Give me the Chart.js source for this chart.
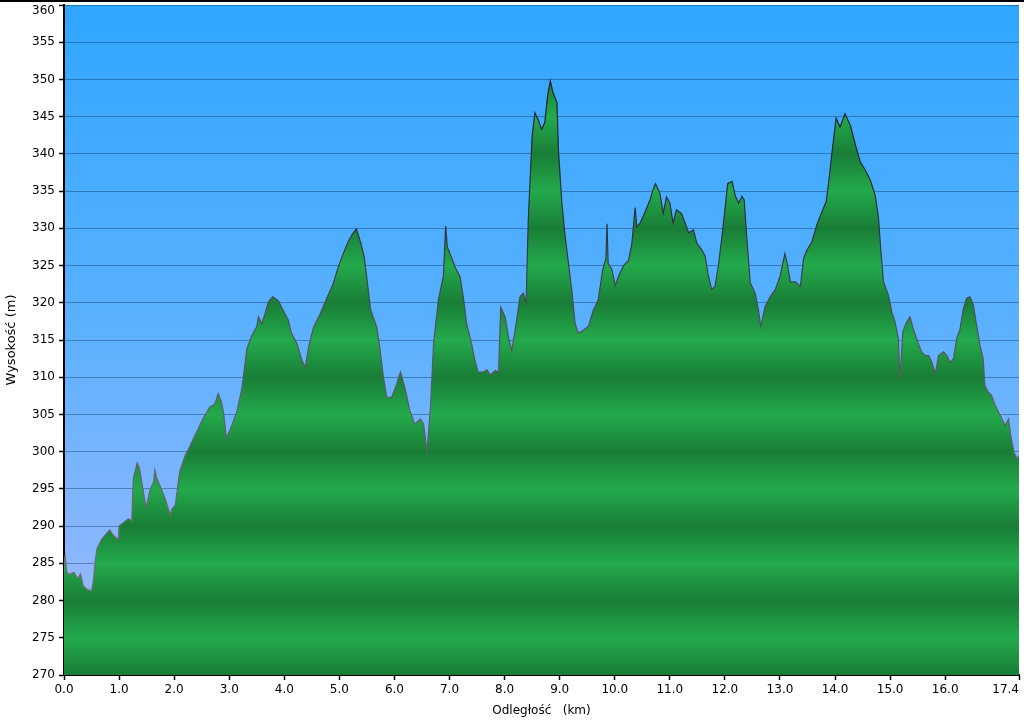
<!DOCTYPE html>
<html>
<head>
<meta charset="utf-8">
<script src="https://cdn.jsdelivr.net/npm/chart.js@4/dist/chart.umd.min.js"></script>
<style>
  html, body { margin: 0; padding: 0; background: #fff; }
  canvas { display: block; }
</style>
</head>
<body>
<canvas id="c" width="1024" height="720"></canvas>
<script>
// Distance along route (km)
const distKm = [
  0.00, 0.02, 0.05, 0.10, 0.18, 0.25, 0.30, 0.35, 0.42, 0.50, 0.53, 0.57, 0.60, 0.68, 0.77, 0.83, 0.90, 0.99,
  1.00, 1.08, 1.17, 1.23, 1.26, 1.33, 1.37, 1.42, 1.49, 1.56, 1.63, 1.65, 1.68, 1.74, 1.83, 1.93, 1.96,
  2.02, 2.10, 2.20, 2.29, 2.38, 2.47, 2.56, 2.65, 2.74, 2.80, 2.86, 2.90, 2.95,
  3.05, 3.14, 3.23, 3.32, 3.41, 3.50, 3.53, 3.59, 3.65, 3.71, 3.79, 3.89, 3.98,
  4.07, 4.13, 4.23, 4.32, 4.38, 4.44, 4.53, 4.65, 4.77, 4.89, 4.98,
  5.07, 5.16, 5.24, 5.31, 5.39, 5.45, 5.51, 5.57, 5.68, 5.74, 5.80, 5.86, 5.95,
  6.04, 6.11, 6.19, 6.28, 6.37, 6.47, 6.53, 6.59, 6.65, 6.71, 6.80, 6.89, 6.93, 6.96,
  7.03, 7.10, 7.19, 7.25, 7.31, 7.40, 7.46, 7.52, 7.62, 7.68, 7.74, 7.83, 7.89, 7.93,
  8.01, 8.07, 8.13, 8.19, 8.28, 8.34, 8.39, 8.43, 8.50, 8.55, 8.61, 8.67, 8.73, 8.78, 8.83, 8.88, 8.95, 8.98,
  9.04, 9.10, 9.16, 9.22, 9.28, 9.34, 9.43, 9.52, 9.61, 9.70, 9.78, 9.84, 9.86, 9.88, 9.95,
  10.01, 10.07, 10.16, 10.25, 10.31, 10.37, 10.40, 10.46, 10.55, 10.64, 10.69, 10.74, 10.82, 10.88, 10.94,
  11.00, 11.06, 11.12, 11.21, 11.28, 11.34, 11.43, 11.49, 11.58, 11.64, 11.70, 11.76, 11.82, 11.88, 11.94,
  12.00, 12.05, 12.13, 12.19, 12.25, 12.31, 12.35, 12.40, 12.46, 12.55, 12.61, 12.65, 12.73, 12.82, 12.91,
  13.00, 13.09, 13.13, 13.19, 13.28, 13.37, 13.43, 13.49, 13.58, 13.67, 13.76, 13.84, 13.90, 13.96,
  14.02, 14.09, 14.18, 14.28, 14.37, 14.46, 14.55, 14.64, 14.73, 14.79, 14.83, 14.88, 14.97,
  15.03, 15.09, 15.15, 15.18, 15.23, 15.30, 15.36, 15.42, 15.48, 15.57, 15.64, 15.70, 15.76, 15.82, 15.88, 15.97,
  16.03, 16.09, 16.15, 16.21, 16.27, 16.33, 16.39, 16.45, 16.51, 16.57, 16.63, 16.69, 16.72, 16.78, 16.84, 16.91, 16.97,
  17.03, 17.09, 17.15, 17.19, 17.25, 17.31, 17.34
];

// Elevation (m)
const elevM = [
  284.5, 286.2, 283.8, 283.5, 283.8, 283.0, 283.6, 282.0, 281.5, 281.3, 282.5, 285.5, 287.0, 288.2, 289.0, 289.5, 288.7, 288.2,
  290.0, 290.5, 291.0, 290.7, 296.5, 298.5, 297.8, 295.5, 292.5, 294.8, 296.0, 297.5, 296.5, 295.5, 293.8, 291.5, 292.3,
  292.8, 297.3, 299.5, 300.8, 302.2, 303.6, 304.9, 306.0, 306.4, 307.8, 306.6, 305.0, 301.8,
  303.6, 305.4, 308.5, 313.8, 315.6, 316.8, 318.1, 317.2, 318.5, 320.1, 320.8, 320.3, 319.0,
  317.7, 315.9, 314.5, 312.3, 311.3, 314.0, 316.7, 318.5, 320.6, 322.6, 324.8,
  326.6, 328.2, 329.3, 329.9, 328.0, 326.2, 322.6, 319.0, 316.7, 313.6, 310.0, 307.3, 307.3,
  309.1, 310.7, 308.6, 305.5, 303.7, 304.4, 303.7, 300.1, 305.5, 314.5, 320.5, 323.6, 330.3, 327.5,
  326.2, 324.8, 323.5, 320.8, 317.2, 314.5, 312.3, 310.7, 310.7, 311.0, 310.3, 310.9, 310.7, 319.4,
  318.1, 315.4, 313.6, 316.3, 320.8, 321.3, 320.0, 331.2, 342.4, 345.5, 344.6, 343.3, 344.2, 347.8, 349.8, 348.2, 346.9, 340.2,
  333.4, 328.9, 325.3, 321.7, 317.2, 315.9, 316.3, 316.8, 319.0, 320.4, 324.4, 326.0, 330.6, 325.3, 324.4,
  322.3, 323.6, 325.0, 325.7, 327.9, 332.8, 330.2, 330.7, 332.2, 333.8, 335.1, 336.0, 334.7, 332.0, 334.2,
  333.4, 330.7, 332.5, 332.0, 330.7, 329.4, 329.8, 328.0, 327.1, 326.3, 323.6, 321.8, 322.2, 324.9, 328.5,
  332.5, 336.0, 336.3, 334.3, 333.4, 334.3, 333.8, 328.5, 322.7, 321.3, 319.0, 316.8, 319.5, 320.8, 321.7,
  323.5, 326.6, 325.3, 322.8, 322.8, 322.2, 326.0, 327.1, 328.2, 330.5, 332.2, 333.6, 337.2, 341.2,
  344.8, 343.6, 345.4, 343.8, 341.2, 338.9, 337.8, 336.5, 334.4, 331.3, 327.2, 322.8, 321.0,
  318.8, 317.4, 315.2, 309.8, 316.1, 317.4, 318.1, 316.5, 315.2, 313.4, 312.9, 312.9, 312.0, 310.5, 312.9, 313.4,
  312.9, 312.0, 312.5, 315.2, 316.5, 319.2, 320.6, 320.8, 319.7, 317.0, 314.3, 312.5, 308.9, 308.0, 307.6, 306.2, 305.3,
  304.4, 303.5, 304.4, 302.2, 299.9, 299.0, 299.5
];

// X tick positions and labels (last tick is route end, labelled 17.4)
const xTickValues = [0, 1, 2, 3, 4, 5, 6, 7, 8, 9, 10, 11, 12, 13, 14, 15, 16, 17.34];
const xTickLabels = ['0.0', '1.0', '2.0', '3.0', '4.0', '5.0', '6.0', '7.0', '8.0', '9.0', '10.0', '11.0', '12.0', '13.0', '14.0', '15.0', '16.0', '17.4'];

const yMin = 270, yMax = 360, yStep = 5;
const xTitle = 'Odległość   (km)';
const yTitle = 'Wysokość (m)';

const FONT = '"DejaVu Sans", Verdana, sans-serif';

const bgPlugin = {
  id: 'bg',
  beforeDraw(chart) {
    const { ctx, chartArea: a } = chart;
    ctx.save();
    ctx.fillStyle = '#ffffff';
    ctx.fillRect(0, 0, chart.width, chart.height);
    const g = ctx.createLinearGradient(0, a.top, 0, a.bottom);
    g.addColorStop(0, 'rgb(48,166,255)');
    g.addColorStop(0.45, 'rgb(88,176,255)');
    g.addColorStop(0.8, 'rgb(135,182,253)');
    g.addColorStop(1, 'rgb(168,188,250)');
    ctx.fillStyle = g;
    ctx.fillRect(a.left, a.top, a.right - a.left, a.bottom - a.top);
    ctx.fillStyle = '#000';
    ctx.fillRect(0, 0, chart.width, 2);
    ctx.restore();
    // keep the top y label inside the canvas (hang it below its tick)
    chart.scales.y.getLabelItems().forEach(it => {
      if (it.label === String(yMax)) it.options.textBaseline = 'top';
    });
    // first x label centred on its tick, last one right-aligned to its tick
    const xi = chart.scales.x.getLabelItems();
    if (xi.length) xi[0].options.textAlign = 'center';
  }
};

function fillGradient(context) {
  const chart = context.chart;
  const a = chart.chartArea;
  if (!a) return 'rgb(34,160,70)';
  const ys = chart.scales.y;
  const g = chart.ctx.createLinearGradient(0, a.top, 0, a.bottom);
  const h = a.bottom - a.top;
  for (let v = yMax; v >= yMin; v -= yStep) {
    const p = (ys.getPixelForValue(v) - a.top) / h;
    const dark = (v % 10 === 0);
    g.addColorStop(Math.min(1, Math.max(0, p)), dark ? 'rgb(25,125,54)' : 'rgb(35,170,76)');
  }
  return g;
}

function lineGradient(context) {
  const chart = context.chart;
  const a = chart.chartArea;
  if (!a) return '#333';
  const ys = chart.scales.y;
  const g = chart.ctx.createLinearGradient(0, a.top, 0, a.bottom);
  const h = a.bottom - a.top;
  const pos = v => Math.min(1, Math.max(0, (ys.getPixelForValue(v) - a.top) / h));
  g.addColorStop(pos(350), 'rgb(20,30,40)');
  g.addColorStop(pos(330), 'rgb(45,50,60)');
  g.addColorStop(pos(315), 'rgb(85,85,95)');
  g.addColorStop(pos(270), 'rgb(120,120,125)');
  return g;
}

new Chart(document.getElementById('c'), {
  type: 'line',
  data: {
    datasets: [{
      data: distKm.map((d, i) => ({ x: d, y: elevM[i] })),
      borderColor: lineGradient,
      borderWidth: 1.2,
      backgroundColor: fillGradient,
      fill: 'start',
      pointRadius: 0,
      tension: 0
    }]
  },
  plugins: [bgPlugin],
  options: {
    responsive: false,
    animation: false,
    layout: { padding: { top: 5, right: 5, left: 0, bottom: 0 } },
    plugins: { legend: { display: false }, tooltip: { enabled: false } },
    scales: {
      x: {
        type: 'linear',
        min: 0,
        max: xTickValues[xTickValues.length - 1],
        afterBuildTicks: (s) => { s.ticks = xTickValues.map(v => ({ value: v })); },
        afterFit: (s) => { s.height = 45; s.paddingLeft = 0; s.paddingRight = 0; },
        ticks: {
          autoSkip: false, maxRotation: 0, padding: 3, color: '#000', align: 'inner',
          font: { family: FONT, size: 12 },
          callback: (v, i) => xTickLabels[i]
        },
        grid: { drawOnChartArea: false, tickLength: 5, tickColor: '#000', tickWidth: 1.5 },
        border: { color: '#000', width: 2 },
        title: { display: true, text: xTitle, color: '#000', font: { family: FONT, size: 12 }, padding: { top: 0, bottom: 2 } }
      },
      y: {
        min: yMin,
        max: yMax,
        z: 1,
        afterFit: (s) => { s.width = 64; s.paddingTop = 0; s.paddingBottom = 0; },
        ticks: { stepSize: yStep, padding: 4, color: '#000', font: { family: FONT, size: 12 } },
        grid: { color: 'rgba(0,40,80,0.38)', lineWidth: 1, tickLength: 5, tickColor: '#000', tickWidth: 1.5 },
        border: { color: '#000', width: 2 },
        title: { display: true, text: yTitle, color: '#000', font: { family: FONT, size: 13 }, padding: { top: 4, bottom: 4 } }
      }
    }
  }
});
</script>
</body>
</html>
